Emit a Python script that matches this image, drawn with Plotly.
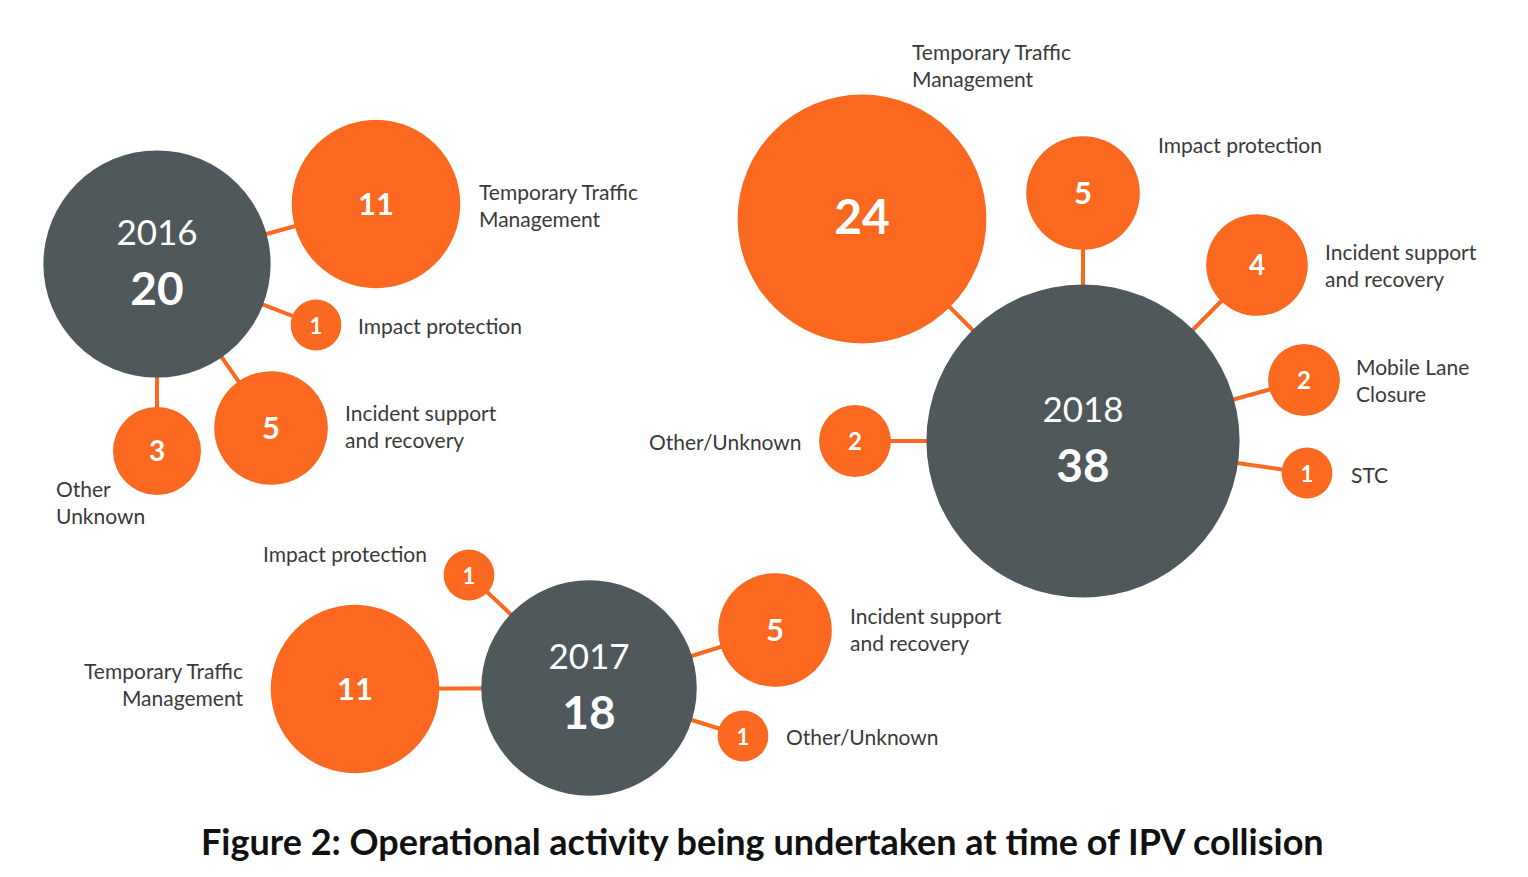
import math
import plotly.graph_objects as go

# ---------------- data ----------------
years = ["2016", "2017", "2018"]
totals = [20, 18, 38]

cats_2016 = ["Temporary Traffic<br>Management", "Impact protection",
             "Incident support<br>and recovery", "Other<br>Unknown"]
vals_2016 = [11, 1, 5, 3]

cats_2017 = ["Impact protection", "Temporary Traffic<br>Management",
             "Incident support<br>and recovery", "Other/Unknown"]
vals_2017 = [1, 11, 5, 1]

cats_2018 = ["Temporary Traffic<br>Management", "Impact protection",
             "Incident support<br>and recovery", "Mobile Lane<br>Closure",
             "STC", "Other/Unknown"]
vals_2018 = [24, 5, 4, 2, 1, 2]

title_text = "Figure 2: Operational activity being undertaken at time of IPV collision"

# ---------------- layout (pixel positions, sizes, styles) ----------------
W, H = 1528, 877
hub_pos = {"2016": (157, 264), "2017": (589, 688), "2018": (1083, 441)}
sat_pos = {
    "2016": [(376, 204), (316, 325), (271, 428), (157, 451)],
    "2017": [(469, 575), (355, 689), (775, 630), (743, 736)],
    "2018": [(862, 219), (1083, 193), (1257, 265), (1304, 380), (1307, 473), (855, 441)],
}
label_pos = {
    "2016": [(477, 205, "left"), (356, 325, "left"), (343, 426, "left"), (54, 502, "left")],
    "2017": [(429, 553, "right"), (245, 684, "right"), (848, 629, "left"), (784, 736, "left")],
    "2018": [(910, 65, "left"), (1156, 144, "left"), (1323, 265, "left"),
             (1354, 380, "left"), (1349, 474, "left"), (804, 441, "right")],
}
K = 25.4  # radius px per sqrt(unit)
ORANGE = "#FB6820"
GREY = "#4F585A"
TEXT = "#3A3A3A"
FONT = "Lato"


def num_font(v):
    if v >= 20:
        return 48
    if v >= 5:
        return 31
    if v >= 3:
        return 28
    if v >= 2:
        return 24
    return 22


cats = {"2016": cats_2016, "2017": cats_2017, "2018": cats_2018}
vals = {"2016": vals_2016, "2017": vals_2017, "2018": vals_2018}

fig = go.Figure()

# connectors
for y in years:
    hx, hy = hub_pos[y]
    xs, ys = [], []
    for sx, sy in sat_pos[y]:
        xs += [hx, sx, None]
        ys += [hy, sy, None]
    fig.add_trace(go.Scatter(x=xs, y=ys, mode="lines",
                             line=dict(color=ORANGE, width=4),
                             hoverinfo="skip", showlegend=False))

# satellites
for y in years:
    v = vals[y]
    fig.add_trace(go.Scatter(
        x=[p[0] for p in sat_pos[y]], y=[p[1] for p in sat_pos[y]],
        mode="markers",
        marker=dict(size=[2 * K * math.sqrt(a) for a in v], color=ORANGE,
                    line=dict(width=0), opacity=1),
        hoverinfo="skip", showlegend=False))
    fig.add_trace(go.Scatter(
        x=[p[0] for p in sat_pos[y]], y=[p[1] + 3 for p in sat_pos[y]],
        mode="text",
        text=[f"<b>{a}</b>" for a in v],
        textposition="middle center",
        textfont=dict(family=FONT, color="white", size=[num_font(a) for a in v]),
        hoverinfo="skip", showlegend=False))

# hubs
fig.add_trace(go.Scatter(
    x=[hub_pos[y][0] for y in years], y=[hub_pos[y][1] for y in years],
    mode="markers",
    marker=dict(size=[2 * K * math.sqrt(t) for t in totals], color=GREY,
                line=dict(width=0), opacity=1),
    hoverinfo="skip", showlegend=False))
fig.add_trace(go.Scatter(
    x=[hub_pos[y][0] for y in years], y=[hub_pos[y][1] - 28 for y in years],
    mode="text", text=years, textposition="middle center",
    textfont=dict(family=FONT, color="white", size=35),
    hoverinfo="skip", showlegend=False))
fig.add_trace(go.Scatter(
    x=[hub_pos[y][0] for y in years], y=[hub_pos[y][1] + 29 for y in years],
    mode="text", text=[f"<b>{t}</b>" for t in totals], textposition="middle center",
    textfont=dict(family=FONT, color="white", size=46),
    hoverinfo="skip", showlegend=False))

# category labels
annotations = []
for y in years:
    for c, (lx, ly, anc) in zip(cats[y], label_pos[y]):
        annotations.append(dict(x=lx, y=ly, xref="x", yref="y", text=c, showarrow=False,
                                xanchor=anc, yanchor="middle", align=anc,
                                font=dict(family=FONT, size=21, color=TEXT)))
annotations.append(dict(x=762, y=841, xref="x", yref="y", text=f"<b>{title_text}</b>",
                        showarrow=False, xanchor="center", yanchor="middle",
                        font=dict(family=FONT, size=36, color="#111111")))

fig.update_layout(
    width=W, height=H,
    margin=dict(l=0, r=0, t=0, b=0),
    paper_bgcolor="white", plot_bgcolor="white",
    xaxis=dict(range=[0, W], visible=False, fixedrange=True),
    yaxis=dict(range=[H, 0], visible=False, fixedrange=True),
    annotations=annotations,
    showlegend=False,
)

fig.write_html("out.html", config={"displayModeBar": False},
               post_script="document.body.style.margin='0';document.body.style.overflow='hidden';")
